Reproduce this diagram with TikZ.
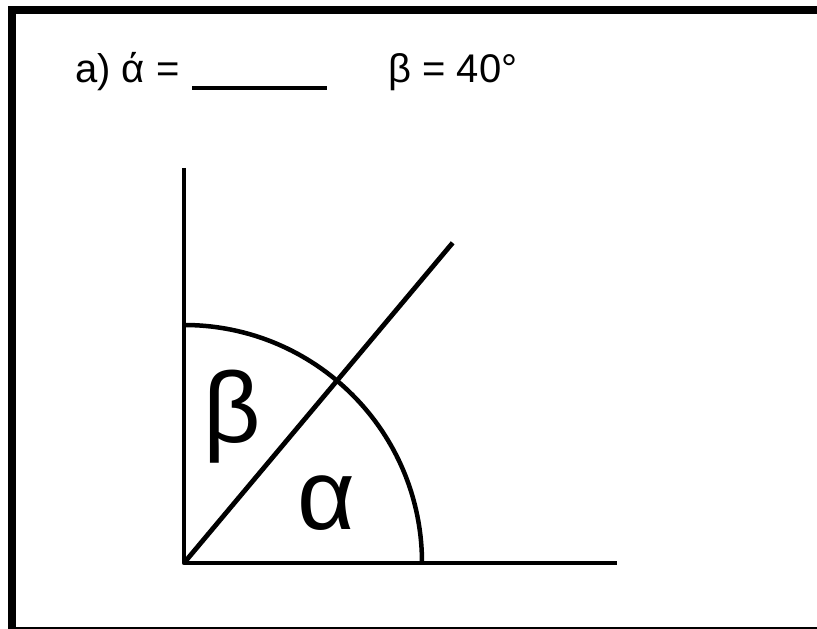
\documentclass[tikz,border=0pt]{standalone}
\usepackage{fontspec}
\setmainfont{Liberation Sans}
\usetikzlibrary{calc}
\begin{document}
\begin{tikzpicture}[x=1pt,y=1pt,
  ray/.style={line width=4.8pt,line join=round},
  title/.style={font=\fontsize{40}{44}\selectfont,inner sep=0pt,anchor=base west},
  greek/.style={font=\fontsize{100}{110}\selectfont,inner sep=0pt,anchor=base}]
\clip (0,0) rectangle (817,629);
\fill[white] (0,0) rectangle (817,629);
\draw[line width=8pt] (11.5,-2) rectangle (840,619);
% title
\node[title] (ta) at (75,546) {a) ά =};
\coordinate (u1) at (192,541);
\coordinate (u2) at (327,541);
\draw[line width=3.5pt] (u1) -- (u2);
\node[title] (tb) at (388,546) {β = 40°};
% angle figure
\coordinate (O) at (184,66);
\coordinate (V) at (184,461);
\coordinate (H) at (617,66);
\coordinate (D) at ($(O)+(50:418)$);
\draw[ray] (V) -- (O) -- (H);
\draw[ray] (O) -- (D);
\draw[line width=4.5pt] (422,66) arc[start angle=0,end angle=90,radius=238];
\node[greek] (beta) at (232,186) {β};
\node[greek] (alpha) at (326,99) {α};
\end{tikzpicture}
\end{document}
